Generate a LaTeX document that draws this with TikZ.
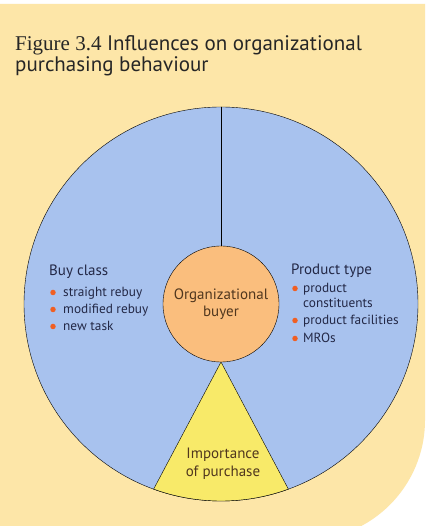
\documentclass[tikz,border=0pt]{standalone}
\usepackage{fontspec}
\setmainfont{PT Sans}
\newfontfamily\figfont{Liberation Serif}
\definecolor{paper}{RGB}{253,230,168}
\definecolor{ringblue}{RGB}{168,194,238}
\definecolor{buyerorange}{RGB}{250,190,125}
\definecolor{triyellow}{RGB}{248,234,105}
\definecolor{dotred}{RGB}{240,95,35}
\definecolor{inktext}{RGB}{35,40,70}
\definecolor{browntext}{RGB}{80,55,30}

\begin{document}
\begin{tikzpicture}[x=1pt,y=1pt,font=\fontsize{13.3}{17}\selectfont, line join=round, line cap=round,
	dot/.style={circle,fill=dotred,inner sep=0pt,minimum size=5.5pt},
	item/.style={anchor=base west,inner sep=0pt,text=inktext},
	head/.style={item,font=\fontsize{15}{18}\selectfont}]
		\useasboundingbox (0,0) rectangle (431,526);
		\fill[white] (0,0) rectangle (431,526);
		\fill[paper] (0,522) -- (425,522) -- (425,106) arc[start angle=0, end angle=-90, radius=120pt] -- (0,-14) -- cycle;
		% title
		\node[anchor=base west, inner sep=0pt, font=\fontsize{21}{24}\selectfont, text=black!85] (title1) at (15,475) {{\figfont Figure 3.4} Influences on organizational};
		\node[anchor=base west, inner sep=0pt, font=\fontsize{21}{24}\selectfont, text=black!85] (title2) at (15,454) {purchasing behaviour};
		% circles and triangle
		\node[circle, draw, fill=ringblue, minimum size=394pt, inner sep=0pt, outer sep=0pt] (ring) at (221,222) {};
		\node[circle, draw, fill=buyerorange, minimum size=116pt, inner sep=0pt, outer sep=0pt, align=center, text=browntext, font=\fontsize{15}{17}\selectfont] (buyer) at (221,222) {Organizational\\buyer};
		\draw (ring.north) -- (buyer.north);
		\draw[fill=triyellow] (buyer.south) -- (ring.250) arc[start angle=250, end angle=290, radius=197pt] -- cycle;
		\node[align=center, text=browntext, inner sep=0pt, font=\fontsize{15}{18}\selectfont] (importance) at (223,62) {Importance\\of purchase};
		% buy class
		\node[head] (buyclass) at (49,250) {Buy class};
		\foreach \txt [count=\i] in {straight rebuy, modified rebuy, new task} {
			\node[dot] (bcdot\i) at (53,233.5-17*\i+17) {};
			\node[item] (bc\i) at (63,229-17*\i+17) {\txt};
		}
		% product type
		\node[head] (prodtype) at (291,251) {Product type};
		\node[dot] (ptdot1) at (295,237.5) {};
		\node[item] (pt1) at (303,233) {product};
		\node[item] (pt1b) at (303,218) {constituents};
		\node[dot] (ptdot2) at (295,205.5) {};
		\node[item] (pt2) at (303,201) {product facilities};
		\node[dot] (ptdot3) at (295,187.5) {};
		\node[item] (pt3) at (303,183) {MROs};
	\end{tikzpicture}
\end{document}
